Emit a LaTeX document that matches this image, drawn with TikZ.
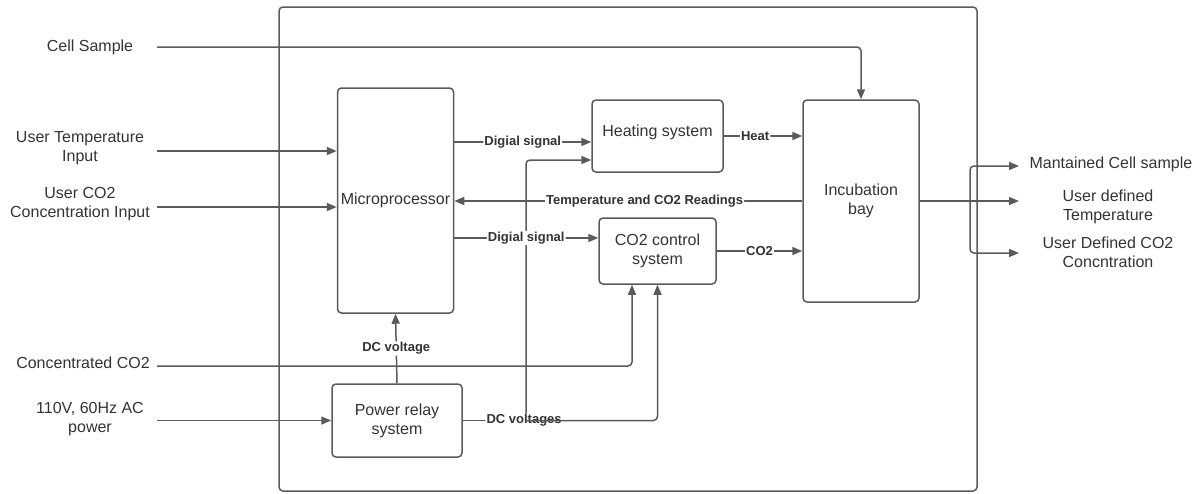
\documentclass[tikz,border=0pt]{standalone}
\usepackage{fontspec}
\setmainfont{Liberation Sans}
\usetikzlibrary{arrows.meta,calc}
\definecolor{linegray}{HTML}{5A5A5A}
\definecolor{txtgray}{HTML}{333333}
\begin{document}
\begin{tikzpicture}[x=1pt,y=-1pt,
  blk/.style={draw=linegray, line width=1.5pt, rounded corners=4pt, inner sep=2pt,
    align=center, font=\fontsize{16}{19}\selectfont, text=txtgray},
  lbl/.style={fill=white, inner sep=1pt, font=\fontsize{13}{15}\selectfont\bfseries, text=txtgray},
  io/.style={align=center, font=\fontsize{16}{19}\selectfont, text=txtgray},
  arr/.style={draw=linegray, line width=1.5pt, rounded corners=4pt,
    -{Triangle[length=10pt,width=8pt]}},
  wire/.style={draw=linegray, line width=1.5pt, rounded corners=4pt}]
\useasboundingbox (0,0) rectangle (1198,493);

% system boundary
\node[draw=linegray, line width=1.5pt, rounded corners=4pt,
  minimum width=698pt, minimum height=484pt, inner sep=0pt] (sys) at (628,249) {};

% functional blocks
\node[blk, minimum width=116pt, minimum height=225pt] (mp) at (395.5,200.5) {Microprocessor};
\node[blk, minimum width=131pt, minimum height=72pt] (ht) at (657.5,136) {};
\node[io] (httext) at (657.5,132) {Heating system};
\node[blk, minimum width=117pt, minimum height=66pt] (co2) at (657.5,251) {CO2 control\\system};
\node[blk, minimum width=116pt, minimum height=202pt] (inc) at (861,201) {Incubation\\bay};
\node[blk, minimum width=130pt, minimum height=73pt] (pr) at (397,420.5) {Power relay\\system};

% external inputs
\node[io] (lcs) at (90,47) {Cell Sample};
\node[io] (lut) at (80,148.5) {User Temperature\\Input};
\node[io] (luc) at (80,204) {User CO2\\Concentration Input};
\node[io] (lcc) at (83,363) {Concentrated CO2};
\node[io] (lac) at (90,419) {110V, 60Hz AC\\power};

\coordinate (csin) at (157,47);
\coordinate (utin) at (157,151);
\coordinate (ucin) at (157,207);
\coordinate (ccin) at (157,366);
\coordinate (acin) at (157,420.5);

% external outputs
\node[io, anchor=west] (omc) at (1026,164) {Mantained Cell sample};
\node[io] (out) at (1108,207) {User defined\\Temperature};
\node[io] (ouc) at (1108,252.5) {User Defined CO2\\Concntration};

\coordinate (o1) at (1019,166);
\coordinate (o2) at (1019,201);
\coordinate (o3) at (1019,253);
\coordinate (oj) at (970,201);

% input connectors
\draw[arr] (csin) -| (inc.north);
\draw[arr] (utin) -- (mp.west |- utin);
\draw[arr] (ucin) -- (mp.west |- ucin);
\draw[arr] (ccin) -| ($(co2.south)+(-25.5,0)$);
\draw[arr] (acin) -- (pr.west);

% power distribution
\coordinate (dcj) at (526,420.5);
\draw[arr] (dcj) |- ($(ht.west)+(0,24)$);
\draw[arr] (pr.north) -- node[lbl]{DC voltage} (mp.south);
\draw[wire] (pr.east) -- node[lbl, pos=0.97]{DC voltages} (dcj);
\draw[arr] (dcj) -| (co2.south);

% control and sensing
\coordinate (h1) at ($(ht.west)+(0,6)$);
\coordinate (c1) at ($(co2.west)+(0,-13)$);
\draw[arr] (mp.east |- h1) -- node[lbl]{Digial signal} (h1);
\draw[arr] (mp.east |- c1) -- node[lbl]{Digial signal} (c1);
\draw[arr] (ht.east) -- node[lbl, pos=0.4]{Heat} (inc.west |- ht.east);
\draw[arr] (co2.east) -- node[lbl]{CO2} (inc.west |- co2.east);
\draw[arr] (inc.west) -- node[lbl, pos=0.453]{Temperature and CO2 Readings} (mp.east |- inc.west);

% outputs
\draw[arr] (inc.east) -- (o2);
\draw[arr] (oj) |- (o1);
\draw[arr] (oj) |- (o3);
\end{tikzpicture}
\end{document}
